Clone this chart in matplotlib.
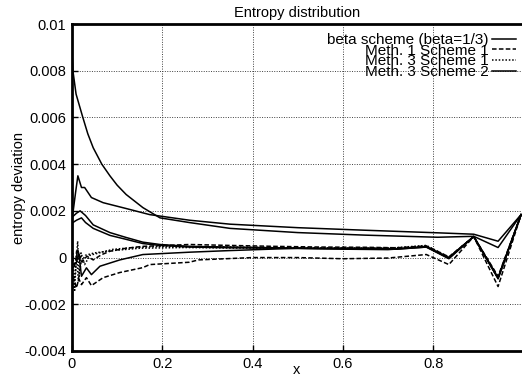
import matplotlib
matplotlib.use("Agg")
import matplotlib.pyplot as plt

plt.rcParams['font.family'] = ['Liberation Sans', 'DejaVu Sans']

title = "Entropy distribution"
xlabel = "x"
ylabel = "entropy deviation"
xticks = [0, 0.2, 0.4, 0.6, 0.8]
xtick_labels = ["0", "0.2", "0.4", "0.6", "0.8"]
yticks = [-0.004, -0.002, 0, 0.002, 0.004, 0.006, 0.008, 0.01]
ytick_labels = ["-0.004", "-0.002", "0", "0.002", "0.004", "0.006", "0.008", "0.01"]
legend_labels = ["beta scheme (beta=1/3)", "Meth. 1 Scheme 1", "Meth. 3 Scheme 1", "Meth. 3 Scheme 2"]

# beta scheme (solid)
beta_a_x = [0, 0.002, 0.009, 0.024, 0.035, 0.047, 0.066, 0.084, 0.10, 0.12, 0.157, 0.195, 0.26, 0.35, 0.5, 0.65, 0.81, 0.89, 0.944, 0.995]
beta_a_y = [0.0088, 0.0080, 0.0070, 0.0060, 0.0053, 0.0047, 0.0040, 0.0035, 0.0031, 0.0027, 0.00214, 0.0017, 0.00150, 0.00125, 0.00107, 0.00096, 0.00087, 0.00091, 0.00043, 0.00184]
beta_b_x = [0.002, 0.010, 0.018, 0.03, 0.047, 0.084, 0.12, 0.157, 0.195, 0.26, 0.35, 0.45, 0.55, 0.65, 0.72, 0.785, 0.835, 0.89, 0.944, 0.995]
beta_b_y = [0.00176, 0.0019, 0.0020, 0.0018, 0.0014, 0.00107, 0.00086, 0.00066, 0.00056, 0.00048, 0.00045, 0.00042, 0.00040, 0.00040, 0.00038, 0.00048, 0.0000, 0.0009, -0.00086, 0.00184]

# Meth. 1 Scheme 1 (dashed)
m11_a_x = [0.005, 0.013, 0.022, 0.033, 0.047, 0.065, 0.084, 0.12, 0.157, 0.26, 0.35, 0.45, 0.55, 0.65, 0.72, 0.785, 0.835, 0.89, 0.944, 0.995]
m11_a_y = [-0.0004, 0.0003, -0.0002, 0.00006, -0.0001, 0.00012, 0.00027, 0.0004, 0.00048, 0.00056, 0.00052, 0.00048, 0.00045, 0.00044, 0.00042, 0.0005, 0.00003, 0.0009, -0.0008, 0.00184]
m11_b_x = [0.002, 0.010, 0.015, 0.021, 0.032, 0.043, 0.069, 0.106, 0.157, 0.172, 0.26, 0.28, 0.4, 0.5, 0.6, 0.7, 0.785, 0.835, 0.89, 0.944, 0.995]
m11_b_y = [-0.0008, -0.0013, -0.0009, -0.00116, -0.00086, -0.0012, -0.00086, -0.00064, -0.00043, -0.0003, -0.0002, -0.0001, 0.0, 0.0, -0.00005, -0.00002, 0.00013, -0.0003, 0.0009, -0.00124, 0.00184]

# Meth. 3 Scheme 1 (dotted)
m31_a_x = [0.003, 0.008, 0.0125, 0.016, 0.02, 0.028, 0.04, 0.06, 0.09, 0.13, 0.2, 0.3, 0.4, 0.5, 0.6, 0.7, 0.785, 0.835, 0.89, 0.944, 0.995]
m31_a_y = [-0.0013, -0.0006, 0.0007, -0.0008, 0.0002, -0.0003, 0.0001, 0.0002, 0.00035, 0.00042, 0.00048, 0.00046, 0.00044, 0.00042, 0.00041, 0.0004, 0.00052, 0.00002, 0.0009, -0.00085, 0.00184]
m31_b_x = [0.002, 0.006, 0.010, 0.014, 0.02, 0.03, 0.05, 0.09, 0.15, 0.25, 0.35, 0.5, 0.65, 0.75, 0.785, 0.835, 0.89, 0.944, 0.995]
m31_b_y = [0.0002, -0.0014, 0.0003, -0.001, -0.0002, 0.0001, 0.0002, 0.0003, 0.0004, 0.00043, 0.00041, 0.0004, 0.00039, 0.00042, 0.00049, 0.0, 0.0009, -0.0009, 0.00184]

# Meth. 3 Scheme 2 (solid)
m32_a_x = [0.002, 0.008, 0.013, 0.021, 0.028, 0.035, 0.043, 0.069, 0.12, 0.172, 0.26, 0.35, 0.5, 0.65, 0.81, 0.89, 0.944, 0.995]
m32_a_y = [0.0019, 0.0028, 0.0035, 0.0030, 0.0030, 0.0028, 0.00257, 0.00235, 0.0021, 0.00184, 0.00160, 0.00143, 0.00128, 0.00117, 0.00106, 0.00100, 0.0007, 0.00184]
m32_b_x = [0.002, 0.010, 0.021, 0.03, 0.047, 0.084, 0.12, 0.157, 0.195, 0.26, 0.35, 0.45, 0.55, 0.65, 0.72, 0.785, 0.835, 0.89, 0.944, 0.995]
m32_b_y = [0.0015, 0.0016, 0.0017, 0.0015, 0.00125, 0.00095, 0.00078, 0.0006, 0.00052, 0.00045, 0.00042, 0.0004, 0.00038, 0.00037, 0.00036, 0.00045, -0.00005, 0.0009, -0.0009, 0.00184]
m32_c_x = [0.002, 0.01, 0.015, 0.021, 0.032, 0.043, 0.062, 0.106, 0.157, 0.26, 0.35, 0.5, 0.6, 0.7, 0.785, 0.835, 0.89, 0.944, 0.995]
m32_c_y = [-0.0003, -0.0002, 0.0002, -0.0008, -0.00044, -0.00073, -0.00037, -0.0001, 0.00013, 0.00023, 0.0003, 0.0004, 0.00036, 0.00034, 0.00045, -0.00003, 0.0009, -0.0009, 0.00184]

fig = plt.figure(figsize=(5.22, 3.78), dpi=100)
ax = fig.add_axes([72 / 522, 27 / 378, 1 - 72 / 522, (351 - 24) / 378])

lw = 1.1
col = "black"
l1, = ax.plot(beta_a_x, beta_a_y, color=col, lw=lw, ls="-")
ax.plot(beta_b_x, beta_b_y, color=col, lw=lw, ls="-")
l2, = ax.plot(m11_a_x, m11_a_y, color=col, lw=lw, ls=(0, (3, 1.5)))
ax.plot(m11_b_x, m11_b_y, color=col, lw=lw, ls=(0, (3, 1.5)))
l3, = ax.plot(m31_a_x, m31_a_y, color=col, lw=lw, ls=(0, (1, 1.2)))
ax.plot(m31_b_x, m31_b_y, color=col, lw=lw, ls=(0, (1, 1.2)))
l4, = ax.plot(m32_a_x, m32_a_y, color=col, lw=lw, ls="-")
ax.plot(m32_b_x, m32_b_y, color=col, lw=lw, ls="-")
ax.plot(m32_c_x, m32_c_y, color=col, lw=lw, ls="-")

ax.set_xlim(0, 0.997)
ax.set_ylim(-0.004, 0.01)
ax.set_xticks(xticks)
ax.set_xticklabels(xtick_labels)
ax.set_yticks(yticks)
ax.set_yticklabels(ytick_labels)
ax.tick_params(direction="in", length=4, width=1, labelsize=10.5, pad=4)
ax.grid(True, color="0.25", ls=(0, (1, 1.5)), lw=0.7)

for s in ["left", "bottom", "top"]:
    ax.spines[s].set_linewidth(2.0)
ax.spines["right"].set_visible(False)

ax.set_title(title, fontsize=10.5, pad=5)
ax.set_xlabel(xlabel, fontsize=10.5)
ax.xaxis.label.set_va("center")
ax.xaxis.set_label_coords(0.5, -0.058)
ax.set_ylabel(ylabel, fontsize=10.5, labelpad=-1)

leg = ax.legend([l1, l2, l3, l4], legend_labels, loc="upper right",
                bbox_to_anchor=(0.987, 0.972), frameon=False, markerfirst=False,
                fontsize=11, labelspacing=-0.22, handlelength=1.6,
                handletextpad=0.2, borderpad=0.0, borderaxespad=0.0)

fig.savefig("out.png", dpi=100)
